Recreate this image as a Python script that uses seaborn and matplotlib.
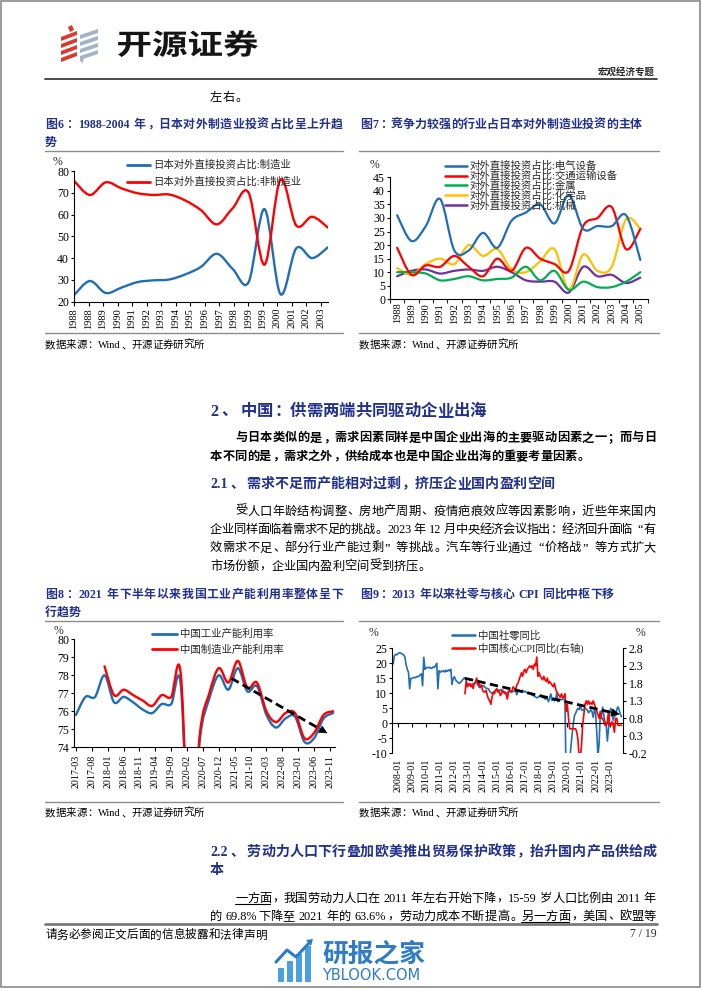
import re
import numpy as np
import matplotlib
matplotlib.use('Agg')
import matplotlib.pyplot as plt
import matplotlib.transforms as mtransforms
import seaborn as sns
from matplotlib.path import Path
from matplotlib.patches import PathPatch, Polygon, Rectangle
from matplotlib.lines import Line2D
from matplotlib.textpath import TextPath
from matplotlib.font_manager import FontProperties

# ---------------- data ----------------
# Fig 6: Japan outward FDI share, manufacturing vs non-manufacturing (%)
fdi_ticks = ['1988', '1988', '1989', '1990', '1991', '1992', '1993', '1994', '1995',
             '1996', '1997', '1998', '1999', '1999', '2000', '2001', '2002', '2003']
fdi_mfg = [23, 29.5, 24, 26.5, 29.0, 29.8, 30.2, 32.5, 36, 42, 35, 29, 62.5, 23.5, 44.5, 40, 45]
fdi_non = [75.5, 69, 74.8, 72, 69.8, 69, 69.2, 66.5, 62, 55.5, 63, 70, 37, 76, 55, 59, 54]

# Fig 7: shares by industry (%)
sector_years = ['1988', '1989', '1990', '1991', '1992', '1993', '1994', '1995', '1996',
                '1997', '1998', '1999', '2000', '2001', '2002', '2003', '2004', '2005']
elec = [31, 21.5, 27, 37, 18, 18, 24.5, 19, 29, 32, 35, 28, 38.5, 26, 27, 27, 31, 14.5]
transport = [19, 9, 12.5, 12, 16, 12, 8.5, 15, 10.5, 19, 15, 13, 10.5, 27, 30, 34, 18.5, 26]
metal = [10, 10, 9.5, 7, 7.5, 8.5, 7, 7.5, 8, 12, 7, 10.5, 3.5, 6.5, 4.5, 4.5, 6.5, 10]
chem = [11.5, 9, 13, 15, 13, 20, 16, 18.5, 11, 10, 14, 18.5, 3.5, 16.5, 10.5, 12, 29.5, 26]
mach = [8.5, 10.5, 11, 9.5, 10.5, 11, 10.5, 12, 10, 7, 6.5, 6.5, 2.5, 12, 8.5, 9, 6, 8]

# Fig 8: capacity utilisation, quarterly (%)
cu_ticks = ['2017-03', '2017-08', '2018-01', '2018-06', '2018-11', '2019-04', '2019-09',
            '2020-02', '2020-07', '2020-12', '2021-05', '2021-10', '2022-03', '2022-08',
            '2023-01', '2023-06', '2023-11']
cu_industry = [75.8, 76.8, 76.8, 78.0, 76.5, 76.8, 76.5, 76.1, 75.9, 76.4, 76.4, 77.5,
               67.3, 74.4, 76.7, 78.0, 77.2, 78.4, 77.1, 77.4, 75.8, 75.1, 75.6, 75.7,
               74.3, 74.5, 75.6, 75.9]
cu_manu = [78.5, 76.9, 77.2, 76.9, 76.6, 76.3, 76.9, 76.8, 78.1, 67.2, 74.7, 77.0, 78.4,
           77.6, 78.8, 77.3, 77.6, 76.0, 75.4, 75.9, 75.9, 74.5, 74.8, 75.8, 76.0]

# Fig 9: retail sales yoy (left, %) and core CPI yoy (right, %), monthly
retail_ticks = ['2008-01', '2009-01', '2010-01', '2011-01', '2012-01', '2013-01', '2014-01',
                '2015-01', '2016-01', '2017-01', '2018-01', '2019-01', '2020-01', '2021-01',
                '2022-01', '2023-01']
retail = [21.5, 19.8, 22.5, 23.0, 22.8,
          23.2, 23.5, 23.5, 23.3, 23.0, 22.8, 22.0, 19.5, 18.0, 17.0, 11.5, 15.0,
          15.0, 15.2, 15.3, 15.2, 15.6, 15.5, 15.8, 16.2, 16.5, 12.5, 22.0, 18.0,
          18.5, 18.6, 18.5, 18.7, 18.3, 18.4, 18.8, 18.6, 19.2, 20.0, 11.5, 17.5,
          17.0, 17.4, 17.2, 17.6, 17.1, 17.7, 17.3, 17.8, 17.5, 18.0, 13.0, 15.0,
          15.5, 14.5, 14.0, 13.7, 13.3, 13.5, 14.0, 14.5, 15.0, 15.2, 14.2, 13.0,
          12.8, 12.6, 12.9, 13.0, 13.2, 13.3, 13.4, 13.7, 13.6, 12.0, 11.9, 12.2,
          12.4, 12.5, 12.0, 11.7, 11.6, 11.5, 10.7, 10.2, 10.0, 10.1, 10.6, 10.9,
          10.8, 11.0, 11.0, 11.1, 11.2, 10.5, 10.3, 10.5, 10.0, 10.2, 10.6, 10.7,
          10.6, 10.4, 10.7, 10.8, 10.9, 9.5, 10.9, 10.9, 10.7, 10.5, 11.0, 10.4,
          10.7, 10.4, 10.1, 10.3, 10.0, 9.7, 9.4, 9.4, 9.0, 8.8, 8.5, 8.6,
          9.0, 9.2, 9.4, 8.6, 8.6, 8.1, 8.2, 8.2, 7.2, 8.6, 9.8, 7.6,
          8.0, 7.5, 7.8, 10.0, 7.2, 8.0, 8.0, 7.8, 8.2, 8.0, 7.5,
          -20.0, -18.0, -16.0, -12.0, -8.0, -4.0, -0.5, 2.5, 3.3, 4.3, 5.0, 4.6,
          6.0, 4.5, 4.3, 4.6, 5.0, 4.8, 4.4, 3.5, 4.0, 4.5, 3.8, 2.0,
          4.5, 3.5, -3.0, -11.1, -6.7, 3.1, 2.7, 5.4, 2.5, 0.6, -0.5, -5.9,
          -1.8, 3.5, 5.0, 3.0, 1.0, 3.1, 2.5, 4.6, 5.5, 4.5, 3.0, 2.2]
core_cpi = [1.5, 1.85, 1.7, 1.75, 1.8, 1.7, 1.75, 1.65, 1.8, 1.85,
            1.95, 1.75, 1.8, 1.7, 1.75, 1.6, 1.55, 1.55, 1.6, 1.45,
            1.35, 1.3, 1.2, 1.4, 1.55, 1.5, 1.6, 1.65, 1.55, 1.6,
            1.45, 1.5, 1.6, 1.55, 1.5, 1.5, 1.35, 1.55, 1.6, 1.55,
            1.6, 1.7, 1.65, 1.6, 1.75, 1.8, 1.9, 2.0, 2.1, 2.0,
            2.15, 2.2, 2.1, 2.2, 2.25, 2.3, 2.25, 2.3, 2.2, 2.35,
            2.3, 2.55, 2.0, 2.1, 2.0, 1.95, 1.9, 2.0, 1.9, 1.85,
            1.95, 1.8, 1.85, 1.8, 1.75, 1.7, 1.8, 1.65, 1.55, 1.5,
            1.45, 1.4, 1.5, 1.4, 1.4, 1.5, 1.0, 1.2, 0.8, 0.5,
            0.5, 0.5, 0.5, 0.5, 0.5, 0.4, 0.2, -0.3, -0.3, 0.0,
            0.6, 0.9, 1.2, 1.3, 1.2, 1.3, 1.2, 1.25, 1.2, 1.3,
            1.2, 1.1, 1.0, 0.9, 0.8, 1.0, 0.8, 0.8, 0.7, 0.6,
            0.6, 0.7, 1.0, 0.6, 0.6, 0.7, 0.6, 0.4, 0.8, 0.8,
            0.6, 0.6, 0.6, 0.6]

# trend arrows drawn on fig 8 / fig 9 (start, end in data units)
cu_arrow = [(49, 77.83), (79.2, 74.78)]
retail_arrow = [(62, 15.0), (193.4, 3.0)]

# ---------------- setup ----------------
sns.set_theme(style='white')
FAM = ['Liberation Serif', 'Noto Sans CJK SC']
plt.rcParams['font.family'] = FAM
plt.rcParams['axes.unicode_minus'] = False

W, H = 702, 991
BLUE = '#1F6EB6'
RED = '#FF0000'
NAVY = '#22318C'

fig = plt.figure(figsize=(W / 100, H / 100), dpi=100)
fig.patch.set_facecolor('white')
PIX = mtransforms.Affine2D().scale(1 / W, -1 / H).translate(0, 1) + fig.transFigure
renderer = fig.canvas.get_renderer()


def X(x):
    return x / W


def Y(y):
    return 1 - y / H


def hline(x0, x1, y, color='#8c8c8c', lw=1.0):
    fig.add_artist(Line2D([x0, x1], [y, y], transform=PIX, color=color, lw=lw))


def measure(s, size, weight):
    t = fig.text(0, 0, s, fontsize=size, fontweight=weight, family=FAM)
    w = t.get_window_extent(renderer=renderer).width
    t.remove()
    return w


TOK = re.compile(r"[A-Za-z0-9.%\-/:()]+|\s+|.")
LEFT_P = set('，。、；：！？）”')
RIGHT_P = set('（“')


def put_line(s, x0, y, size, x1=None, weight='normal', color='black'):
    em = size / 72 * 100
    items = []
    for t in TOK.findall(s):
        if t.isspace():
            items.append([t, 0.25 * em, 'sp'])
        elif t.isascii():
            items.append([t, measure(t, size, weight) + 0.1 * em, 'as'])
        else:
            items.append([t, em, 'cj'])
    nat = sum(it[1] for it in items)
    gap = (x1 - x0 - nat) / (len(items) - 1) if (x1 is not None and len(items) > 1) else 0
    base = y + 0.38 * em
    x = x0
    out = []
    for t, w, k in items:
        kw = dict(fontsize=size, fontweight=weight, color=color, family=FAM, va='baseline')
        if k == 'as':
            fig.text(X(x + 0.05 * em), Y(base), t, ha='left', **kw)
        elif k == 'cj':
            if t in LEFT_P:
                fig.text(X(x + 0.08 * em), Y(base), t, ha='left', **kw)
            elif t in RIGHT_P:
                fig.text(X(x + w - 0.08 * em), Y(base), t, ha='right', **kw)
            else:
                fig.text(X(x + w / 2), Y(base), t, ha='center', **kw)
        out.append((t, x, x + w))
        x += w + gap
    return out, base


def smooth_path(x, y):
    x = np.asarray(x, float)
    y = np.asarray(y, float)
    n = len(x)
    verts = [(x[0], y[0])]
    codes = [Path.MOVETO]
    for i in range(n - 1):
        xa, ya = (x[i - 1], y[i - 1]) if i > 0 else (x[i], y[i])
        xb, yb = (x[i + 2], y[i + 2]) if i + 2 < n else (x[i + 1], y[i + 1])
        c1 = (x[i] + (x[i + 1] - xa) / 6, y[i] + (y[i + 1] - ya) / 6)
        c2 = (x[i + 1] - (xb - x[i]) / 6, y[i + 1] - (yb - y[i]) / 6)
        verts += [c1, c2, (x[i + 1], y[i + 1])]
        codes += [Path.CURVE4] * 3
    return Path(verts, codes)


def smooth_line(ax, x, y, color, lw):
    ax.add_patch(PathPatch(smooth_path(x, y), fill=False, edgecolor=color, lw=lw,
                           capstyle='round', joinstyle='round'))


def add_ax(x0, y0, x1, y1):
    ax = fig.add_axes([X(x0), Y(y1), (x1 - x0) / W, (y1 - y0) / H])
    ax.set_facecolor('none')
    ax.grid(False)
    for s in ['top', 'right']:
        ax.spines[s].set_visible(False)
    for s in ['left', 'bottom']:
        ax.spines[s].set_color('black')
        ax.spines[s].set_linewidth(0.8)
    ax.tick_params(axis='y', direction='out', length=2.5, width=0.8, pad=1,
                   colors='black', labelsize=8.5, left=True)
    ax.tick_params(axis='x', direction='out', length=3, width=0.8, pad=1.5,
                   colors='black', labelsize=7.5, bottom=True)
    return ax


def legend_entry(x0, x1, y, color, label, lw=2.0, size=7.5):
    fig.add_artist(Line2D([x0, x1], [y, y], transform=PIX, color=color, lw=lw))
    fig.text(X(x1 + 3), Y(y), label, fontsize=size, family=FAM, va='center', ha='left')


def arrow(ax, start, end, lw=2.0):
    (xs, ys), (xe, ye) = start, end
    ax.plot([xs, xs + 0.96 * (xe - xs)], [ys, ys + 0.96 * (ye - ys)], color='black', lw=lw,
            ls=(0, (3, 1.6)), solid_capstyle='butt')
    ax.annotate('', xy=(xe, ye), xytext=(xe - 0.08 * (xe - xs), ye - 0.08 * (ye - ys)),
                arrowprops=dict(arrowstyle='-|>', color='black', lw=0.5,
                                mutation_scale=13, shrinkA=0, shrinkB=0))


# ---------------- page frame & header ----------------
fig.add_artist(Rectangle((1, 1), 699, 986, transform=PIX, fill=False, ec='#8a8a8a', lw=1.2))

for yb in [37, 44, 51, 58]:
    fig.add_artist(Polygon([(61, yb), (77, yb - 6), (77, yb - 2), (61, yb + 4)],
                           closed=True, transform=PIX, fc='#D93A2B', ec='none'))
fig.add_artist(Polygon([(68, 27), (72, 25), (74, 30), (70, 32)], closed=True,
                       transform=PIX, fc='#D93A2B', ec='none'))
for yb in [35, 42, 49, 56]:
    fig.add_artist(Polygon([(80, yb), (98, yb - 6), (98, yb - 2), (80, yb + 4)],
                           closed=True, transform=PIX, fc='#A3B5C2', ec='none'))
fig.add_artist(Polygon([(80, 56), (84, 56), (83, 63), (80, 61)], closed=True,
                       transform=PIX, fc='#A3B5C2', ec='none'))

tp = TextPath((0, 0), '开源证券', size=100,
              prop=FontProperties(family='Noto Sans CJK SC', weight='bold'))
ext = tp.get_extents()
logo_tr = (mtransforms.Affine2D().translate(-ext.x0, -ext.y0)
           .scale(140 / ext.width, 27 / ext.height)
           .translate(118, H - 57).scale(1 / W, 1 / H) + fig.transFigure)
fig.add_artist(PathPatch(tp, transform=logo_tr, fc='#151515', ec='none'))

fig.text(X(655), Y(72), '宏观经济专题', fontsize=6.8, fontweight='bold', family=FAM,
         ha='right', va='center')
hline(45, 657, 79, color='#3a3a3a', lw=1.3)
put_line('左右。', 210, 96.7, 8.8)

# ---------------- chart titles / frames ----------------
put_line('图6：1988-2004 年，日本对外制造业投资占比呈上升趋', 45, 123.3, 8.6, x1=343,
         weight='bold', color=NAVY)
put_line('势', 45, 141.7, 8.6, weight='bold', color=NAVY)
put_line('图7：竞争力较强的行业占日本对外制造业投资的主体', 360, 123.3, 8.6,
         weight='bold', color=NAVY)
hline(45, 343, 150.7)
hline(359, 659, 150.7)
hline(45, 343, 333)
hline(359, 659, 333)
put_line('数据来源：Wind、开源证券研究所', 45, 344, 7.5)
put_line('数据来源：Wind、开源证券研究所', 359, 344, 7.5)

put_line('图8：2021 年下半年以来我国工业产能利用率整体呈下', 45, 593, 8.6, x1=343,
         weight='bold', color=NAVY)
put_line('行趋势', 45, 611, 8.6, weight='bold', color=NAVY)
put_line('图9：2013 年以来社零与核心 CPI 同比中枢下移', 360, 593, 8.6,
         weight='bold', color=NAVY)
hline(45, 343, 621)
hline(359, 659, 621)
hline(45, 343, 802)
hline(359, 659, 802)
put_line('数据来源：Wind、开源证券研究所', 45, 812, 7.5)
put_line('数据来源：Wind、开源证券研究所', 359, 812, 7.5)

# ---------------- body text ----------------
put_line('2、 中国：供需两端共同驱动企业出海', 210, 410, 11.8, weight='bold', color=NAVY)
put_line('与日本类似的是，需求因素同样是中国企业出海的主要驱动因素之一；而与日', 235, 436.7, 8.8,
         x1=656, weight='bold')
put_line('本不同的是，需求之外，供给成本也是中国企业出海的重要考量因素。', 210, 455, 8.8,
         weight='bold')
put_line('2.1、 需求不足而产能相对过剩，挤压企业国内盈利空间', 210, 482.7, 10.1,
         weight='bold', color=NAVY)
put_line('受人口年龄结构调整、房地产周期、疫情疤痕效应等因素影响，近些年来国内', 235, 510, 8.8,
         x1=656)
put_line('企业同样面临着需求不足的挑战。2023 年 12 月中央经济会议指出：经济回升面临“有', 210,
         528.3, 8.8, x1=656)
put_line('效需求不足、部分行业产能过剩”等挑战。汽车等行业通过“价格战”等方式扩大', 210, 546.7,
         8.8, x1=656)
put_line('市场份额，企业国内盈利空间受到挤压。', 210, 565, 8.8)

put_line('2.2、 劳动力人口下行叠加欧美推出贸易保护政策，抬升国内产品供给成', 210, 850.7, 10.1,
         x1=657, weight='bold', color=NAVY)
put_line('本', 210, 868.5, 10.1, weight='bold', color=NAVY)
l1, b1 = put_line('一方面，我国劳动力人口在 2011 年左右开始下降，15-59 岁人口比例由 2011 年', 235,
                  897, 8.8, x1=656)
l2, b2 = put_line('的 69.8%下降至 2021 年的 63.6%，劳动力成本不断提高。另一方面，美国、欧盟等', 210,
                  915, 8.8, x1=656)
hline(l1[0][1], l1[2][2] - 1, b1 + 2.5, color='black', lw=0.8)
k = [t for t, _, _ in l2].index('另')
hline(l2[k][1], l2[k + 3][2] - 1, b2 + 2.5, color='black', lw=0.8)

hline(45, 657, 924, color='#7a7a7a', lw=2.0)
put_line('请务必参阅正文后面的信息披露和法律声明', 45, 934, 8.4)
fig.text(X(657), Y(934), '7 / 19', fontsize=8.4, family=FAM, ha='right', va='center')

# watermark
for bx, bh in zip([278, 287, 296, 305], [14, 21, 28, 36]):
    fig.add_artist(Rectangle((bx, 982 - bh), 6, bh, transform=PIX, fc='#4AA0E2', ec='none'))
fig.add_artist(Line2D([276, 287, 296, 310], [962, 950, 957, 942], transform=PIX,
                      color='#2A7CC7', lw=2.2))
fig.add_artist(Polygon([(306, 940), (313, 939), (311, 946)], closed=True, transform=PIX,
                       fc='#2A7CC7', ec='none'))
fig.text(X(322), Y(954), '研报之家', fontsize=18.5, fontweight='bold',
         family=['Noto Sans CJK SC'], color='#2E7BC6', ha='left', va='center')
fig.text(X(322), Y(976), 'YBLOOK.COM', fontsize=10.5, family=['DejaVu Sans'],
         color='#2E7BC6', ha='left', va='center')

# ---------------- Fig 6 ----------------
ax6 = add_ax(74, 171, 328, 301.7)
x6 = np.arange(len(fdi_mfg))
smooth_line(ax6, x6, fdi_mfg, BLUE, 1.7)
smooth_line(ax6, x6, fdi_non, RED, 1.7)
ax6.set_xlim(0, len(fdi_mfg) - 1)
ax6.set_ylim(20, 80)
ax6.set_yticks(np.arange(20, 81, 10))
ax6.set_xticks(np.arange(len(fdi_ticks)) * (len(fdi_mfg) - 1) / 17.5)
ax6.set_xticklabels(fdi_ticks, rotation=90)
fig.text(X(58), Y(162), '%', fontsize=8.5, family=FAM, ha='center', va='center')
legend_entry(127, 150, 165, BLUE, '日本对外直接投资占比:制造业')
legend_entry(127, 150, 181.7, RED, '日本对外直接投资占比:非制造业')

# ---------------- Fig 7 ----------------
ax7 = add_ax(390, 177.3, 647.5, 299.3)
x7 = np.arange(len(sector_years))
colors7 = [BLUE, RED, '#00B050', '#FFC000', '#7030A0']
series7 = [elec, transport, metal, chem, mach]
labels7 = ['对外直接投资占比:电气设备', '对外直接投资占比:交通运输设备', '对外直接投资占比:金属',
           '对外直接投资占比:化学品', '对外直接投资占比:机械']
for vals, c in zip(series7[::-1], colors7[::-1]):
    smooth_line(ax7, x7, vals, c, 1.6)
ax7.set_xlim(-0.5, len(sector_years) - 0.5)
ax7.set_ylim(0, 45)
ax7.set_yticks(np.arange(0, 46, 5))
ax7.set_xticks(x7)
ax7.set_xticklabels(sector_years, rotation=90)
ax7.set_xticks(np.arange(len(sector_years) + 1) - 0.5, minor=True)
ax7.tick_params(axis='x', which='major', length=0, pad=2.5)
ax7.tick_params(axis='x', which='minor', length=3, width=0.8, direction='out', bottom=True)
fig.text(X(375), Y(165.5), '%', fontsize=8.5, family=FAM, ha='center', va='center')
for lab, c, yy in zip(labels7, colors7, [166, 175.7, 185.3, 195.3, 205.3]):
    legend_entry(445, 467, yy, c, lab, lw=1.8)

# ---------------- Fig 8 ----------------
ax8 = add_ax(74.3, 639.3, 335, 747.3)
x8_ind = 3 * np.arange(len(cu_industry))
x8_man = 9 + 3 * np.arange(len(cu_manu))
smooth_line(ax8, x8_ind, cu_industry, BLUE, 1.7)
smooth_line(ax8, x8_man, cu_manu, RED, 1.7)
arrow(ax8, cu_arrow[0], cu_arrow[1], lw=2.0)
ax8.set_xlim(-0.525, 81.6)
ax8.set_ylim(74, 80)
ax8.set_yticks(np.arange(74, 81, 1))
ax8.set_xticks(5 * np.arange(len(cu_ticks)))
ax8.set_xticklabels(cu_ticks, rotation=90)
ax8.tick_params(axis='x', labelsize=7.2, pad=2.5)
fig.text(X(58.3), Y(630.5), '%', fontsize=8.5, family=FAM, ha='center', va='center')
legend_entry(152, 177, 634, BLUE, '中国工业产能利用率')
legend_entry(152, 177, 649.3, RED, '中国制造业产能利用率')

# ---------------- Fig 9 ----------------
ax9 = add_ax(392, 648.3, 623, 753.3)
ax9.spines['bottom'].set_position(('data', 0))
x9 = np.arange(len(retail))
x9_cpi = 62 + np.arange(len(core_cpi))
sns.lineplot(x=x9, y=retail, ax=ax9, color=BLUE, lw=1.2)
ax9r = ax9.twinx()
sns.lineplot(x=x9_cpi, y=core_cpi, ax=ax9r, color=RED, lw=1.2)
ax9.set_xlim(0, 196.3)
ax9.set_ylim(-10, 25)
ax9.set_yticks(np.arange(-10, 26, 5))
ax9.set_xticks(5 + 12 * np.arange(len(retail_ticks)))
ax9.set_xticklabels(retail_ticks)
ax9.tick_params(axis='x', direction='out', length=3, width=0.8, colors='black',
                labelsize=7.2, pad=22.5, labelrotation=90, bottom=True)
ax9.tick_params(axis='y', direction='out', length=2.5, width=0.8, pad=1,
                colors='black', labelsize=8.5, left=True)
ax9.set_xlabel('')
ax9.set_ylabel('')
ax9r.set_ylim(-0.2, 2.8)
ax9r.set_yticks([2.8, 2.3, 1.8, 1.3, 0.8, 0.3, -0.2])
ax9r.set_yticklabels(['2.8', '2.3', '1.8', '1.3', '0.8', '0.3', '-0.2'])
ax9r.set_ylabel('')
ax9r.grid(False)
for s in ['top', 'left', 'bottom']:
    ax9r.spines[s].set_visible(False)
ax9r.spines['right'].set_color('black')
ax9r.spines['right'].set_linewidth(0.8)
ax9r.tick_params(axis='y', direction='out', length=2.5, width=0.8, pad=1.5,
                 colors='black', labelsize=8.5, right=True)
(xs, ys), (xe, ye) = retail_arrow
ax9r.plot([xs, xs + 0.97 * (xe - xs)], [ys, ys + 0.97 * (ye - ys)], color='black', lw=2.0,
          ls=(0, (3, 1.6)), transform=ax9.transData)
ax9r.annotate('', xy=(xe, ye), xytext=(xe - 0.06 * (xe - xs), ye - 0.06 * (ye - ys)),
              xycoords=ax9.transData, textcoords=ax9.transData,
              arrowprops=dict(arrowstyle='-|>', color='black', lw=0.5, mutation_scale=13,
                              shrinkA=0, shrinkB=0))
fig.text(X(373.3), Y(633.3), '%', fontsize=8.5, family=FAM, ha='center', va='center')
fig.text(X(640), Y(633.3), '%', fontsize=8.5, family=FAM, ha='center', va='center')
legend_entry(452, 475, 635, BLUE, '中国社零同比', lw=1.8)
legend_entry(452, 475, 648.3, RED, '中国核心CPI同比(右轴)', lw=1.8)

fig.savefig('out.png', dpi=100)
